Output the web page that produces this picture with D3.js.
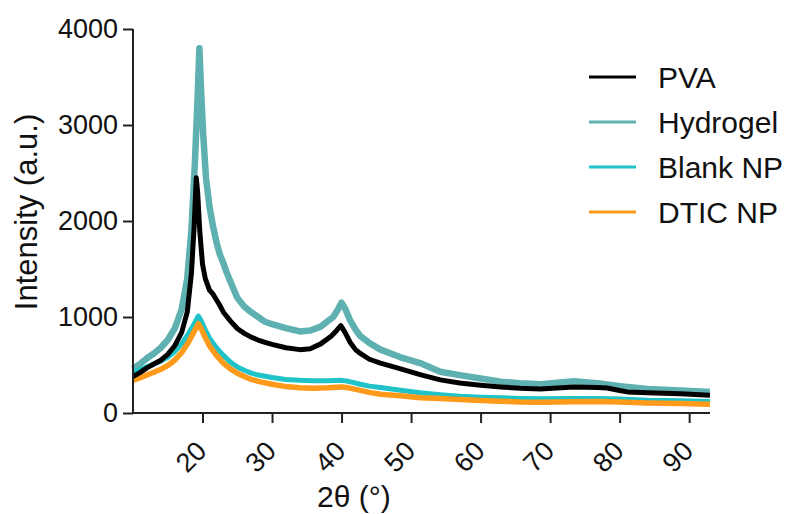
<!DOCTYPE html>
<html>
<head>
<meta charset="utf-8">
<script src="https://cdn.jsdelivr.net/npm/d3@7"></script>
<style>
  body { margin: 0; background: #fff; }
  text { font-family: "Liberation Sans", Arial, sans-serif; fill: #111; }
</style>
</head>
<body>
<div id="chartbox"></div>
<script>
d3.select('#chartbox').html(null);

// 2theta (deg), intensity (a.u.)
var pva = [[10,380],[11,420],[12,470],[13,510],[14,550],[15,610],[16,700],[17,840],[17.8,1050],[18.4,1450],[18.8,1950],[19.1,2450],[19.3,2300],[19.6,1900],[20.0,1550],[20.4,1400],[21,1280],[21.5,1240],[22,1180],[22.5,1120],[23,1050],[24,960],[25,880],[26,830],[27,790],[28,760],[29,735],[30,715],[32,680],[34,660],[35.5,670],[37,720],[38.5,800],[39.3,860],[39.9,910],[40.5,840],[41.2,740],[42,660],[42.7,620],[44,560],[45.6,520],[48.5,460],[51.3,400],[54.2,345],[57,312],[60,290],[62.9,272],[65.7,258],[68.6,250],[73.4,270],[76.8,265],[78.2,260],[80,235],[81.1,220],[84,212],[88.8,200],[93,185]];
var hydrogel = [[10,460],[11,510],[12,570],[13,620],[14,680],[15,760],[16,880],[17,1080],[17.8,1400],[18.4,1900],[18.9,2600],[19.3,3300],[19.55,3800],[19.8,3350],[20.1,2900],[20.5,2450],[21,2150],[21.5,1950],[22,1780],[22.5,1650],[23,1560],[23.5,1460],[24,1370],[25,1200],[26,1110],[27,1050],[28,1000],[29,950],[30,925],[32,885],[34,850],[35.5,860],[37,900],[38.8,1000],[39.5,1080],[40,1150],[40.5,1090],[41.2,970],[42,870],[42.7,800],[44,730],[45.6,660],[48.5,580],[51.3,520],[54.2,430],[57,395],[60,360],[62.9,325],[65.7,310],[68.6,300],[71,315],[73.4,330],[76.8,310],[80.1,280],[84,250],[88.8,235],[93,220]];
var blankNP = [[10,430],[11,450],[12,480],[13,510],[14,540],[15,580],[16,640],[17,720],[18,830],[18.8,930],[19.4,1010],[19.8,960],[20.3,880],[21,780],[22,680],[23,600],[24,530],[25,480],[26,445],[27,415],[28,395],[30,370],[32,350],[34,340],[36,335],[38,335],[40,340],[41,330],[42.7,300],[44,280],[45.6,265],[48.5,236],[51.3,210],[54.2,190],[57,175],[60,165],[62.9,158],[65.7,152],[68.6,148],[73,150],[77,150],[80,145],[84,132],[88.8,128],[93,120]];
var dticNP = [[10,340],[11,365],[12,395],[13,425],[14,455],[15,495],[16,550],[17,630],[18,740],[18.8,850],[19.4,930],[19.8,880],[20.3,800],[21,700],[22,600],[23,520],[24,460],[25,415],[26,380],[27,350],[28,330],[30,300],[32,275],[34,262],[36,258],[38,262],[40,272],[41,262],[42.7,236],[44,215],[45.6,195],[48.5,180],[51.3,160],[54.2,150],[57,140],[60,130],[62.9,122],[65.7,115],[68.6,113],[73,118],[77,120],[80,115],[84,105],[88.8,98],[93,90]];

var seriesNames = ['PVA', 'Hydrogel', 'Blank NP', 'DTIC NP'];
var seriesColors = ['#000000', '#5fb0b0', '#1fc3c8', '#ff9a1a'];
var xTicks = [20, 30, 40, 50, 60, 70, 80, 90];
var yTicks = [0, 1000, 2000, 3000, 4000];

const width = 790;
const height = 514;
var margin = {top: 29, right: 80, bottom: 101, left: 133};

var svg = d3.select('#chartbox').append('svg').attr('width', width).attr('height', height);

var x = d3.scaleLinear().domain([10, 93]).range([margin.left, width - margin.right]);
var y = d3.scaleLinear().domain([0, 4000]).range([height - margin.bottom, margin.top]);

var line = d3.line().x(function(d){ return x(d[0]); }).y(function(d){ return y(d[1]); });

// lines, back to front
var data = [pva, hydrogel, blankNP, dticNP];
var widths = [5, 6.5, 5, 5.5];
[1, 2, 3, 0].forEach(function(i){
  svg.append('path').datum(data[i])
    .attr('fill', 'none')
    .attr('stroke', seriesColors[i])
    .attr('stroke-width', widths[i])
    .attr('stroke-linejoin', 'round')
    .attr('d', line);
});

// axes
var yAxis = d3.axisLeft(y).tickValues(yTicks).tickFormat(d3.format('d')).tickSize(10).tickPadding(5);
var xAxis = d3.axisBottom(x).tickValues(xTicks).tickSize(10);

var gy = svg.append('g').attr('transform', 'translate(' + margin.left + ',0)').call(yAxis);
gy.select('.domain').attr('d', 'M0,' + y(0) + 'V' + y(4000)).attr('stroke', '#222').attr('stroke-width', 2);
gy.selectAll('.tick line').attr('stroke', '#222').attr('stroke-width', 2);
gy.selectAll('.tick text').attr('font-size', 27).attr('fill', '#111').style('font-family', '"Liberation Sans", Arial, sans-serif');

var gx = svg.append('g').attr('transform', 'translate(0,' + y(0) + ')').call(xAxis);
gx.select('.domain').attr('d', 'M' + x(10) + ',0H' + x(93)).attr('stroke', '#222').attr('stroke-width', 2);
gx.selectAll('.tick line').attr('stroke', '#222').attr('stroke-width', 2);
gx.selectAll('.tick text').remove();

svg.selectAll('.xlab').data(xTicks).enter().append('text')
  .attr('class', 'xlab')
  .attr('transform', function(d){ return 'translate(' + (x(d) - 1) + ',446) rotate(-45)'; })
  .attr('text-anchor', 'end')
  .attr('dy', '0.35em')
  .attr('font-size', 27)
  .text(function(d){ return d; });

// axis titles
svg.append('text').attr('x', 317).attr('y', 507).attr('font-size', 30).text('2θ (°)');
svg.append('text').attr('transform', 'translate(37,212) rotate(-90)')
  .attr('text-anchor', 'middle').attr('font-size', 31).text('Intensity (a.u.)');

// legend
var legend = svg.selectAll('.leg').data(seriesNames).enter().append('g')
  .attr('class', 'leg')
  .attr('transform', function(d, i){ return 'translate(589,' + (77 + i * 45) + ')'; });
legend.append('line').attr('x1', 0).attr('x2', 47).attr('y1', 0).attr('y2', 0)
  .attr('stroke', function(d, i){ return seriesColors[i]; }).attr('stroke-width', 3);
legend.append('text').attr('x', 69).attr('dy', '0.35em').attr('font-size', 30).text(function(d){ return d; });
</script>
</body>
</html>
